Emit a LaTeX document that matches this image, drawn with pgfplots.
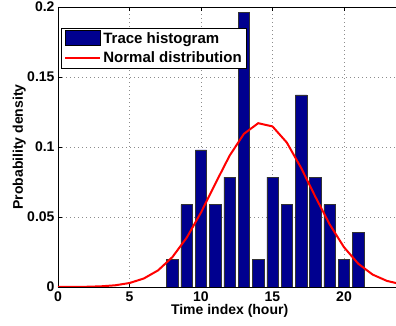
\documentclass[border=0pt]{standalone}
\usepackage{pgfplots}
\pgfplotsset{compat=1.18}
\usepackage{fontspec}
\setmainfont{Liberation Sans}
\definecolor{matnavy}{rgb}{0,0,0.5625}
\newcommand{\ff}{\fontsize{14}{16}\selectfont\bfseries}
\newcommand{\fl}{\fontsize{15}{17}\selectfont\bfseries}
\begin{document}
\begin{tikzpicture}[font=\ff]
\begin{axis}[name=ax,
  scale only axis, width=343.2pt, height=280pt,
  xmin=0, xmax=24, ymin=0, ymax=0.2,
  xtick={0,5,10,15,20}, ytick={0,0.05,0.1,0.15,0.2},
  tick align=inside, major tick length=4pt,
  grid=major, grid style={dash pattern=on 1pt off 3pt, black!45, line width=0.7pt},
  axis line style={line width=0.8pt},
  tick style={black, line width=0.6pt},
  /pgf/number format/assume math mode=true,
  yticklabel style={/pgf/number format/fixed, /pgf/number format/precision=2},
  xticklabel style={font=\ff, yshift=-1pt},
  yticklabel style={font=\ff},
  xlabel={Time index (hour)}, ylabel={Probability density},
  xlabel style={font=\ff, at={(axis description cs:0.5,-0.098)}, anchor=base},
  ylabel style={font=\ff, at={(axis description cs:-0.102,0.5)}, anchor=base},
  legend style={font=\fl, at={(0.0087,0.925)}, anchor=north west,
    draw=black, line width=0.8pt, inner xsep=3pt, inner ysep=2pt,
    row sep=3pt, cells={anchor=west}},
  legend cell align=left,
]
\addplot[ybar, bar width=0.8, fill=matnavy, draw=black!80, line width=0.5pt,
  legend image code/.code={\draw[fill=matnavy, draw=black, line width=0.5pt] (0pt,-7pt) rectangle (35pt,8pt);}]
  coordinates {(8,0.0196) (9,0.0588) (10,0.0980) (11,0.0588) (12,0.0784)
  (13,0.1961) (14,0.0196) (15,0.0784) (16,0.0588) (17,0.1373) (18,0.0784)
  (19,0.0588) (20,0.0196) (21,0.0392)};
\addlegendentry{Trace histogram}
\addplot[red, line width=2pt, mark=none,
  legend image code/.code={\draw[red, line width=2pt] (0pt,0pt) -- (35pt,0pt);}]
  coordinates {(0,0.0000174) (1,0.000057) (2,0.000173) (3,0.00048) (4,0.00122)
  (5,0.00284) (6,0.00607) (7,0.01189) (8,0.02137) (9,0.0352) (10,0.0532)
  (11,0.0738) (12,0.0938) (13,0.1094) (14,0.1170) (15,0.1147) (16,0.1032)
  (17,0.0851) (18,0.0644) (19,0.0447) (20,0.0284) (21,0.0166) (22,0.00888)
  (23,0.00436) (24,0.00196)};
\addlegendentry{Normal distribution}
\end{axis}
\pgfresetboundingbox
\useasboundingbox ([shift={(-58pt,-39pt)}]ax.south west) rectangle ([shift={(-5.2pt,7pt)}]ax.north east);
\end{tikzpicture}
\end{document}
